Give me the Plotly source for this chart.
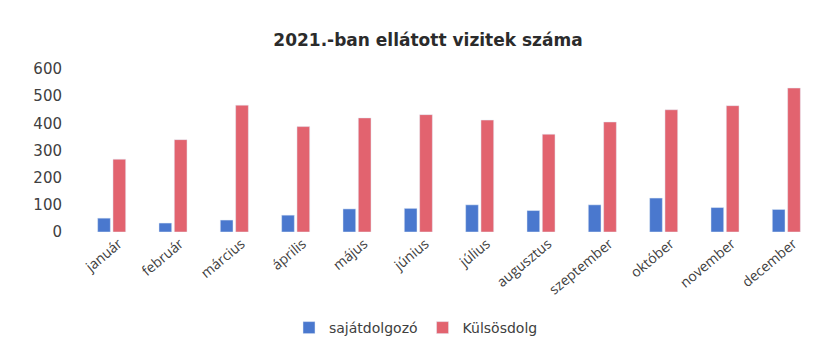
import plotly.graph_objects as go

months = ["január", "február", "március", "április", "május", "június",
          "július", "augusztus", "szeptember", "október", "november", "december"]
sajat = [51, 33, 44, 62, 85, 87, 100, 79, 100, 125, 90, 83]
kulsos = [268, 340, 467, 388, 420, 432, 412, 360, 405, 450, 465, 530]
y_ticks = [0, 100, 200, 300, 400, 500, 600]

fig = go.Figure()
fig.add_trace(go.Bar(x=months, y=sajat, name="sajátdolgozó", marker_color="#4A78CE"))
fig.add_trace(go.Bar(x=months, y=kulsos, name="Külsösdolg", marker_color="#E2636F"))

fig.update_layout(
    width=833, height=340,
    margin=dict(l=81, r=16, t=69, b=108, autoexpand=False),
    paper_bgcolor="white", plot_bgcolor="white",
    barmode="group", bargap=0.5, bargroupgap=0.17,
    title=dict(text="<b>2021.-ban ellátott vizitek száma</b>", xref="container", x=428 / 833,
               xanchor="center", yref="container", y=1 - 40 / 340, yanchor="middle",
               font=dict(family="DejaVu Sans", size=17, color="#2b2b2b")),
    font=dict(family="Open Sans", color="#404040"),
    showlegend=True,
    legend=dict(orientation="h", xref="container", x=416 / 833, xanchor="center",
                yref="container", y=1 - 328 / 340, yanchor="middle",
                font=dict(family="DejaVu Sans", size=14, color="#404040"), itemwidth=30,
                traceorder="normal"),
    xaxis=dict(tickangle=-40, tickfont=dict(family="Open Sans", size=14, color="#404040"),
               showline=False, showgrid=False, ticks="", automargin=False,
               ticklabelshift=7),
    yaxis=dict(range=[0, 600], tickvals=y_ticks, showgrid=False, zeroline=False,
               showline=False, tickfont=dict(family="DejaVu Sans", size=15, color="#404040"),
               ticklabelstandoff=18, automargin=False),
)

fig.write_html("out.html", config={"displayModeBar": False},
               post_script="document.body.style.margin='0';")
